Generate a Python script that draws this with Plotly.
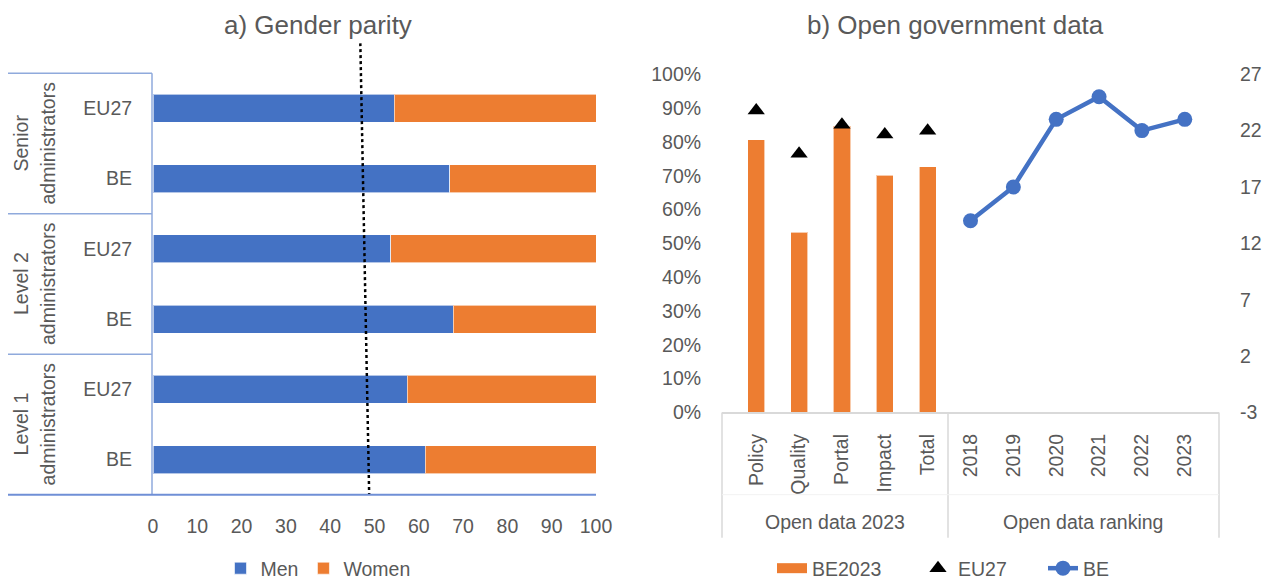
import plotly.graph_objects as go

# ---------------- data ----------------
groups = ["Level 1<br>administrators", "Level 2<br>administrators", "Senior<br>administrators"]
# bottom -> top order
gp_keys = ["L1|BE", "L1|EU27", "L2|BE", "L2|EU27", "SA|BE", "SA|EU27"]
gp_ticktext = ["BE", "EU27", "BE", "EU27", "BE", "EU27"]
men = [61.5, 57.4, 67.8, 53.7, 67.0, 54.5]
women = [100 - v for v in men]
parity_x = [46.8, 48.8]
parity_y = [1, 0]

od_dims = ["Policy", "Quality", "Portal", "Impact", "Total"]
be2023 = [0.807, 0.533, 0.846, 0.702, 0.726]
eu27_od = [0.893, 0.765, 0.851, 0.822, 0.833]
years = ["2018", "2019", "2020", "2021", "2022", "2023"]
be_rank = [14, 17, 23, 25, 22, 23]
rank_ticks = [-3, 2, 7, 12, 17, 22, 27]
rank_ticktext = ["-3", "2", "7", "12", "17", "22", "27"]

BLUE = "#4472C4"
ORANGE = "#ED7D31"
TXT = "#595959"
FONT = "Liberation Sans, Arial, sans-serif"
FS = 19.5

W, H = 1270, 579
FIG_H = 588  # rendered canvas height (screenshot is rescaled to 579)
def PX(x): return x / W
def PY(y): return 1 - y / H

fig = go.Figure()

# ---------------- left: gender parity ----------------
fig.add_trace(go.Bar(y=gp_keys, x=men, orientation="h", name="Men",
                     marker=dict(color=BLUE, line=dict(color="rgba(255,255,255,0.6)", width=1)),
                     xaxis="x", yaxis="y", legend="legend"))
fig.add_trace(go.Bar(y=gp_keys, x=women, orientation="h", name="Women",
                     marker=dict(color=ORANGE, line=dict(color="rgba(255,255,255,0.6)", width=1)),
                     xaxis="x", yaxis="y", legend="legend"))
fig.add_trace(go.Scatter(x=parity_x, y=parity_y, mode="lines", showlegend=False,
                         line=dict(color="black", width=2.5, dash="dot"),
                         xaxis="x4", yaxis="y4", hoverinfo="skip"))

# ---------------- right: open government data ----------------
cats = od_dims + years
fig.add_trace(go.Bar(x=od_dims, y=be2023, name="BE2023", showlegend=False,
                     marker=dict(color=ORANGE, line=dict(color="rgba(255,255,255,0.6)", width=1)),
                     xaxis="x2", yaxis="y2"))
# legend entry for the bars (wide swatch like the original)
fig.add_trace(go.Scatter(x=[None], y=[None], mode="lines", name="BE2023",
                         line=dict(color=ORANGE, width=12),
                         xaxis="x2", yaxis="y2", legend="legend2"))
fig.add_trace(go.Scatter(x=od_dims, y=eu27_od, mode="markers", name="EU27",
                         marker=dict(symbol="triangle-up", color="black", size=15),
                         xaxis="x2", yaxis="y2", legend="legend3"))
fig.add_trace(go.Scatter(x=years, y=be_rank, mode="lines+markers", name="BE",
                         line=dict(color=BLUE, width=4.5),
                         marker=dict(color=BLUE, size=15),
                         xaxis="x2", yaxis="y3", legend="legend4"))

axfont = dict(family=FONT, size=FS, color=TXT)

def leg(xstart):
    return dict(orientation="h", x=PX(xstart), xanchor="left", y=PY(567), yanchor="middle",
                font=axfont, bgcolor="rgba(0,0,0,0)", traceorder="normal",
                borderwidth=0, itemwidth=30)

fig.update_layout(
    width=W, height=FIG_H, autosize=False,
    margin=dict(l=0, r=0, t=0, b=0),
    paper_bgcolor="white", plot_bgcolor="rgba(0,0,0,0)",
    font=axfont,
    barmode="stack", bargap=0.6,
    xaxis=dict(domain=[PX(153), PX(596)], anchor="y", range=[0, 100], dtick=10,
               showgrid=False, zeroline=False, showline=False,
               ticks="outside", ticklen=14, tickcolor="rgba(0,0,0,0)",
               tickfont=axfont, automargin=False, fixedrange=True),
    yaxis=dict(domain=[PY(493), PY(73)], anchor="x", type="category",
               categoryorder="array", categoryarray=gp_keys,
               tickvals=gp_keys, ticktext=gp_ticktext,
               showgrid=False, zeroline=False, showline=False,
               ticks="outside", ticklen=16, tickcolor="rgba(0,0,0,0)",
               tickfont=axfont, automargin=False),
    xaxis4=dict(domain=[PX(153), PX(596)], anchor="y4", range=[0, 100], visible=False),
    yaxis4=dict(domain=[PY(493), PY(43)], anchor="x4", range=[0, 1], visible=False),
    xaxis2=dict(domain=[PX(722), PX(1219)], anchor="y2", type="category",
                categoryorder="array", categoryarray=cats,
                showgrid=False, zeroline=False, showline=True, linecolor="#D9D9D9", linewidth=1.5,
                tickangle=-90, ticks="outside", ticklen=12, tickcolor="rgba(0,0,0,0)",
                tickfont=axfont, automargin=False),
    yaxis2=dict(domain=[PY(411), PY(74)], anchor="x2", range=[0, 1], dtick=0.1,
                tickformat=".0%", showgrid=False, zeroline=False, showline=False,
                ticks="outside", ticklen=16, tickcolor="rgba(0,0,0,0)",
                tickfont=axfont, automargin=False),
    yaxis3=dict(overlaying="y2", side="right", anchor="x2",
                range=[rank_ticks[0], rank_ticks[-1]],
                tickvals=rank_ticks, ticktext=rank_ticktext,
                showgrid=False, zeroline=False, showline=False,
                ticks="outside", ticklen=16, tickcolor="rgba(0,0,0,0)",
                tickfont=axfont, automargin=False),
    legend=dict(orientation="h", x=PX(318), xanchor="center", y=PY(567), yanchor="middle",
                font=axfont, bgcolor="rgba(0,0,0,0)", traceorder="normal"),
    legend2=leg(772),
    legend3=leg(918),
    legend4=leg(1043),
    showlegend=True,
)

def ann(text, x, y, size=FS, angle=0):
    return dict(text=text, x=PX(x), y=PY(y), xref="paper", yref="paper",
                xanchor="center", yanchor="middle", showarrow=False, textangle=angle,
                font=dict(family=FONT, size=size, color=TXT))

annotations = [
    ann("a) Gender parity", 318, 25, size=26),
    ann("b) Open government data", 955, 25, size=26),
]
group_centers = [423, 283, 143]
for g, yc in zip(groups, group_centers):
    line1, line2 = g.split("<br>")
    annotations.append(ann(line1, 21, yc, angle=-90))
    annotations.append(ann(line2, 48, yc, angle=-90))
annotations.append(ann("Open data 2023", 835, 520))
annotations.append(ann("Open data ranking", 1083, 520))
fig.update_layout(annotations=annotations)

shapes = []
LB = "#8FAADC"
shapes.append(dict(type="line", xref="paper", yref="paper", x0=PX(152), x1=PX(152), y0=PY(73), y1=PY(493),
                   line=dict(color=LB, width=1.5)))
for yy in [73, 213, 353]:
    shapes.append(dict(type="line", xref="paper", yref="paper", x0=PX(8), x1=PX(152), y0=PY(yy), y1=PY(yy),
                       line=dict(color=LB, width=1.5)))
shapes.append(dict(type="line", xref="paper", yref="paper", x0=PX(8), x1=PX(596), y0=PY(493), y1=PY(493),
                   line=dict(color="#6F8FD6", width=2)))
for xx in [722, 948, 1219]:
    shapes.append(dict(type="line", xref="paper", yref="paper", x0=PX(xx), x1=PX(xx), y0=PY(411), y1=PY(536),
                       line=dict(color="#D9D9D9", width=1.5)))
shapes.append(dict(type="line", xref="paper", yref="paper", x0=PX(722), x1=PX(1219), y0=PY(493), y1=PY(493),
                   line=dict(color="#F2F2F2", width=1)))
fig.update_layout(shapes=shapes)

fig.write_html(
    "out.html",
    config={"displayModeBar": False},
    post_script=(
        "document.documentElement.style.margin='0';"
        "document.documentElement.style.overflow='hidden';"
        "document.body.style.margin='0';document.body.style.overflow='hidden';"
        "var gd=document.getElementById('{plot_id}');"
        "gd.style.position='fixed';gd.style.left='0px';gd.style.top='0px';"
    ),
)
